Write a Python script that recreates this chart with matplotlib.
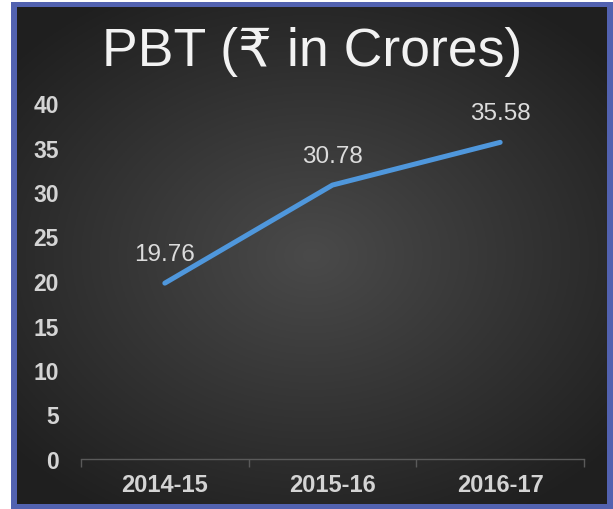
import matplotlib.pyplot as plt
import numpy as np

""" Data read off the reference chart """
title = "PBT (₹ in Crores)"
years = ["2014-15", "2015-16", "2016-17"]
pbt = [19.76, 30.78, 35.58]
y_ticks = [0, 5, 10, 15, 20, 25, 30, 35, 40]

plt.rcParams["font.family"] = ["Liberation Sans", "DejaVu Sans"]

W, H = 613, 510
fig = plt.figure(figsize=(W / 100, H / 100), dpi=100)
fig.patch.set_facecolor("white")

# blue frame around the dark panel
frame = fig.add_axes([11 / W, 0 / H, 602 / W, 507 / H])
frame.set_facecolor("#5262b0")
frame.set_xticks([])
frame.set_yticks([])
for s in frame.spines.values():
    s.set_visible(False)

# dark radial gradient inside the frame
bg = fig.add_axes([17 / W, 5 / H, 590 / W, 497 / H])
gx, gy = np.meshgrid(np.linspace(-1, 1, 300), np.linspace(-1, 1, 300))
r = np.clip(np.sqrt((gx * 1.0) ** 2 + (gy * 1.1) ** 2) / 1.35, 0, 1)
light, dark = 0x4a / 255, 0x1f / 255
shade = light + (dark - light) * r
bg.imshow(np.dstack([shade, shade, shade]), aspect="auto", extent=[0, 1, 0, 1])
bg.set_xticks([])
bg.set_yticks([])
for s in bg.spines.values():
    s.set_visible(False)

# title
fig.text(312 / W, 1 - 52 / H, title, ha="center", va="center",
         fontsize=38.5, color="#f2f2f2")

""" Line chart """
ax = fig.add_axes([81 / W, 50 / H, 503 / W, 356 / H])
ax.patch.set_alpha(0)
x = np.arange(len(years))
ax.plot(x, pbt, color="#4f97dc", lw=3.6, solid_capstyle="round",
        solid_joinstyle="round", zorder=3)

for xi, v in zip(x, pbt):
    ax.annotate(f"{v:.2f}", (xi, v), xytext=(0, 21), textcoords="offset points",
                ha="center", va="center", fontsize=17.5, color="#dcdcdc")

ax.set_xlim(-0.5, len(years) - 0.5)
ax.set_ylim(0, 40)
ax.set_xticks(x)
ax.set_xticklabels(years)
ax.set_xticks(np.arange(len(years) + 1) - 0.5, minor=True)
ax.set_yticks(y_ticks)

ax.tick_params(axis="x", which="major", length=0, pad=10, labelsize=17,
               labelcolor="#d4d4d4")
ax.tick_params(axis="x", which="minor", length=6, width=1, color="#5a5a5a")
ax.tick_params(axis="y", length=0, pad=16, labelsize=16.5, labelcolor="#d4d4d4")
for lbl in ax.get_xticklabels() + ax.get_yticklabels():
    lbl.set_fontweight("bold")

for side in ["top", "right", "left"]:
    ax.spines[side].set_visible(False)
ax.spines["bottom"].set_color("#5a5a5a")
ax.spines["bottom"].set_linewidth(1)

fig.savefig("out.png", dpi=100)
